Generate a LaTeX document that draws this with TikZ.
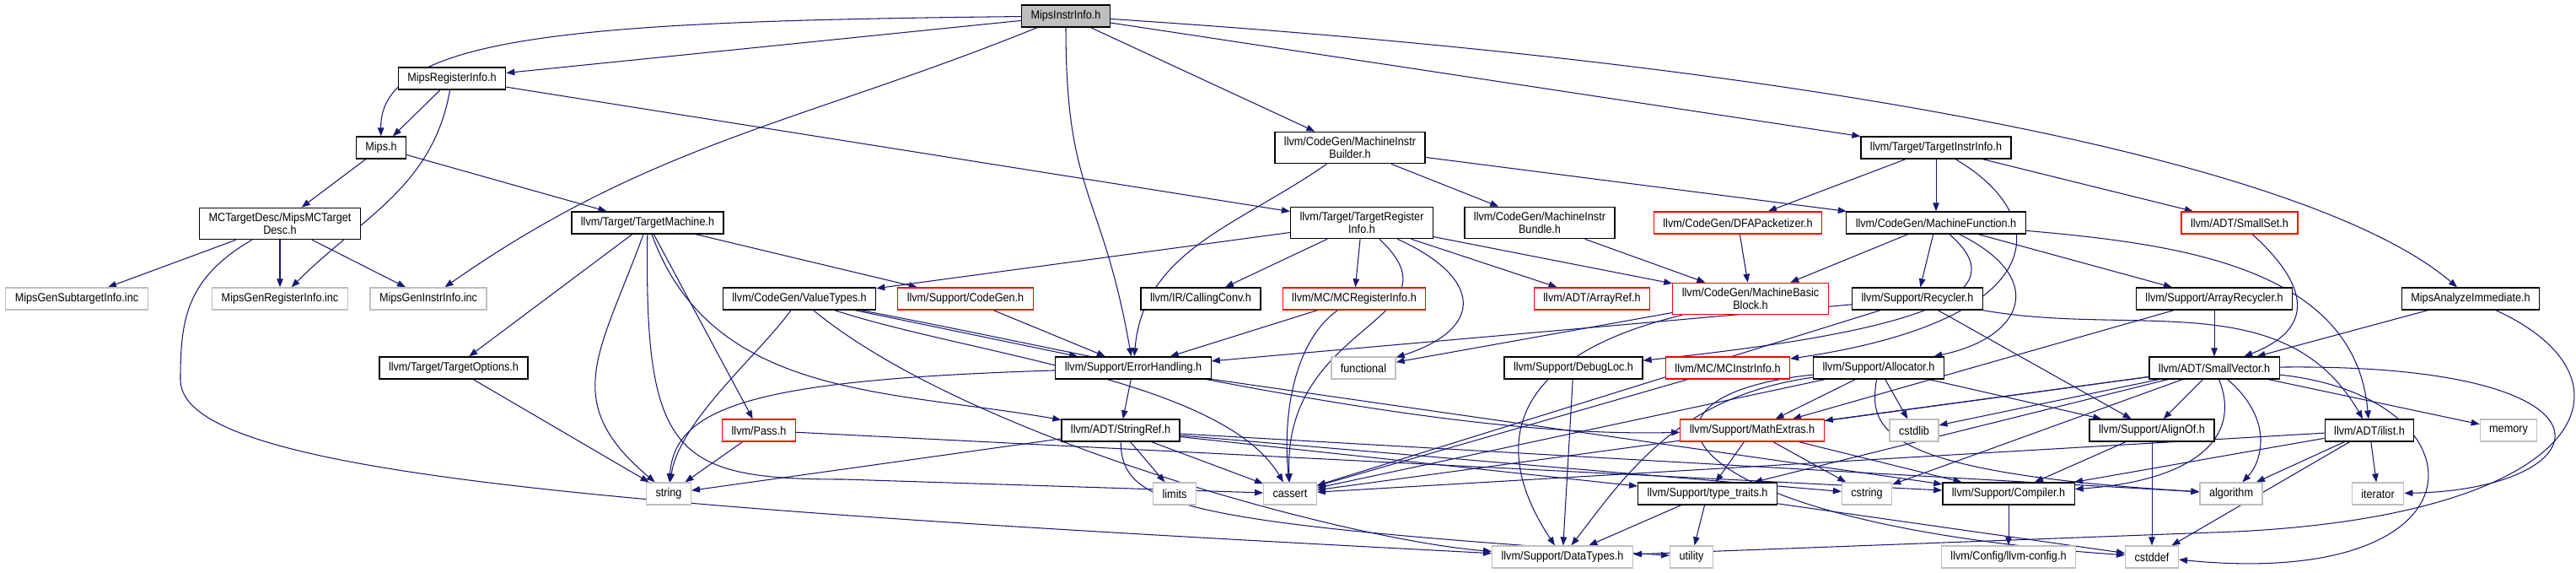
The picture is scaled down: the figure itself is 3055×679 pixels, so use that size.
\documentclass[tikz,border=0pt]{standalone}
\usepackage{fontspec}
\setmainfont{Liberation Sans}[FakeStretch=0.9]
\usetikzlibrary{arrows.meta}

\definecolor{edgeblue}{HTML}{191970}
\definecolor{boxgray}{HTML}{BFBFBF}
\pgfdeclarelayer{edges}
\pgfsetlayers{edges,main}

\begin{document}
\begin{tikzpicture}[x=0.02cm,y=-0.02cm,
  hdr/.style={draw=black,fill=white,line width=0.7pt,inner xsep=0.22cm,inner ysep=0.13cm,
    minimum height=0.52cm,align=center,font=\fontsize{8}{8}\selectfont},
  sys/.style={hdr,draw=boxgray},
  trunc/.style={hdr,draw=red},
  rootnode/.style={hdr,fill=boxgray},
  inc/.style={draw=edgeblue,line width=0.6pt,-{Triangle[length=0.2cm,width=0.15cm]}}]

\useasboundingbox (0,0) rectangle (3055,679);

% rows 0-3
\node[rootnode] (root) at (1264,19) {MipsInstrInfo.h};
\node[hdr] (mipsreg) at (536,93) {MipsRegisterInfo.h};
\node[hdr] (mips) at (452,175) {Mips.h};
\node[hdr] (mib) at (1601,175) {llvm/CodeGen/MachineInstr\\Builder.h};
\node[hdr] (tii) at (2296,175) {llvm/Target/TargetInstrInfo.h};
\node[hdr] (mctd) at (332,265) {MCTargetDesc/MipsMCTarget\\Desc.h};
\node[hdr] (tmach) at (768,264) {llvm/Target/TargetMachine.h};
\node[hdr] (tri) at (1615,264) {llvm/Target/TargetRegister\\Info.h};
\node[hdr] (mibundle) at (1826,264) {llvm/CodeGen/MachineInstr\\Bundle.h};
\node[trunc] (dfa) at (2061,264) {llvm/CodeGen/DFAPacketizer.h};
\node[hdr] (mf) at (2296,264) {llvm/CodeGen/MachineFunction.h};
\node[trunc] (sset) at (2656,264) {llvm/ADT/SmallSet.h};

% row 4
\node[sys] (gensub) at (91,354) {MipsGenSubtargetInfo.inc};
\node[sys] (genreg) at (332,354) {MipsGenRegisterInfo.inc};
\node[sys] (geninstr) at (508,354) {MipsGenInstrInfo.inc};
\node[hdr] (vtypes) at (948,354) {llvm/CodeGen/ValueTypes.h};
\node[trunc] (cgen) at (1145,354) {llvm/Support/CodeGen.h};
\node[hdr] (cconv) at (1424,354) {llvm/IR/CallingConv.h};
\node[trunc] (mcreg) at (1606,354) {llvm/MC/MCRegisterInfo.h};
\node[trunc] (aref) at (1888,354) {llvm/ADT/ArrayRef.h};
\node[trunc] (mbb) at (2076,354) {llvm/CodeGen/MachineBasic\\Block.h};
\node[hdr] (recyc) at (2274,354) {llvm/Support/Recycler.h};
\node[hdr] (arecyc) at (2626,354) {llvm/Support/ArrayRecycler.h};
\node[hdr] (mai) at (2930,354) {MipsAnalyzeImmediate.h};

% row 5
\node[hdr] (topts) at (538,436) {llvm/Target/TargetOptions.h};
\node[hdr] (errh) at (1344,436) {llvm/Support/ErrorHandling.h};
\node[sys] (functional) at (1617,436) {functional};
\node[hdr] (dloc) at (1866,436) {llvm/Support/DebugLoc.h};
\node[trunc] (mcinstr) at (2049,436) {llvm/MC/MCInstrInfo.h};
\node[hdr] (alloc) at (2228,436) {llvm/Support/Allocator.h};
\node[hdr] (svec) at (2626,436) {llvm/ADT/SmallVector.h};

% row 6
\node[trunc] (pass) at (900,510) {llvm/Pass.h};
\node[hdr] (sref) at (1329,510) {llvm/ADT/StringRef.h};
\node[trunc] (mathx) at (2078,510) {llvm/Support/MathExtras.h};
\node[sys] (cstdlib) at (2270,510) {cstdlib};
\node[hdr] (alignof) at (2552,510) {llvm/Support/AlignOf.h};
\node[hdr] (ilist) at (2810,510) {llvm/ADT/ilist.h};
\node[sys] (memory) at (2975,510) {memory};

% row 7
\node[sys] (string) at (793,585) {string};
\node[sys] (limits) at (1393,585) {limits};
\node[sys] (cassert) at (1530,585) {cassert};
\node[hdr] (ttraits) at (2025,585) {llvm/Support/type\_traits.h};
\node[sys] (cstring) at (2214,585) {cstring};
\node[hdr] (compiler) at (2382,585) {llvm/Support/Compiler.h};
\node[sys] (algorithm) at (2646,585) {algorithm};
\node[sys] (iterator) at (2820,585) {iterator};

% row 8
\node[sys] (dtypes) at (1853,660) {llvm/Support/DataTypes.h};
\node[sys] (utility) at (2006,660) {utility};
\node[sys] (lconfig) at (2382,660) {llvm/Config/llvm-config.h};
\node[sys] (cstddef) at (2552,660) {cstddef};

\begin{pgfonlayer}{edges}
% MipsInstrInfo.h
\draw[inc] (root) .. controls (700,25) and (450,40) .. (mips);
\draw[inc] (root) -- (mipsreg);
\draw[inc] (root) to[out=-158,in=35] (geninstr);
\draw[inc] (root) to[out=-90,in=100,looseness=1.3] (errh);
\draw[inc] (root) -- (mib);
\draw[inc] (root) -- (tii);
\draw[inc] (root) .. controls (2200,80) and (2750,200) .. (mai);

% MipsRegisterInfo.h, Mips.h
\draw[inc] (mipsreg) -- (mips);
\draw[inc] (mipsreg) to[out=-100,in=45] (genreg);
\draw[inc] (mipsreg) -- (tri);
\draw[inc] (mips) -- (mctd);
\draw[inc] (mips) -- (tmach);

% MipsMCTargetDesc.h
\draw[inc] (mctd) -- (gensub);
\draw[inc] (mctd) -- (genreg);
\draw[inc] (mctd) -- (geninstr);
\draw[inc] (mctd) .. controls (220,330) and (214,380) .. (214,450) .. controls (214,560) and (700,600) .. (dtypes);

% TargetMachine.h
\draw[inc] (tmach) -- (topts);
\draw[inc] (tmach) to[out=-110,in=140,looseness=1.3] (string);
\draw[inc] (tmach) -- (pass);
\draw[inc] (tmach) to[out=-70,in=170] (sref);
\draw[inc] (tmach) .. controls (764,540) and (800,568) .. (1000,568) -- (cassert);
\draw[inc] (tmach) -- (cgen);
\draw[inc] (topts) -- (string);

% MachineInstrBuilder.h
\draw[inc] (mib) to[out=-145,in=85] (errh);
\draw[inc] (mib) -- (mibundle);
\draw[inc] (mib) -- (mf);

% TargetRegisterInfo.h
\draw[inc] (tri) -- (vtypes);
\draw[inc] (tri) -- (cconv);
\draw[inc] (tri) -- (mcreg);
\draw[inc] (tri) .. controls (1760,330) and (1760,390) .. (functional);
\draw[inc] (tri) .. controls (1740,380) and (1520,380) .. (cassert);
\draw[inc] (tri) -- (aref);
\draw[inc] (tri) -- (mbb);
\draw[inc] (mibundle) -- (mbb);
\draw[inc] (dfa) -- (mbb);

% TargetInstrInfo.h
\draw[inc] (tii) -- (dfa);
\draw[inc] (tii) -- (mf);
\draw[inc] (tii) -- (sset);
\draw[inc] (tii) .. controls (2440,260) and (2430,380) .. (mcinstr);

% MachineFunction.h
\draw[inc] (mf) -- (mbb);
\draw[inc] (mf) -- (recyc);
\draw[inc] (mf) .. controls (2390,345) and (2300,390) .. (dloc);
\draw[inc] (mf) .. controls (2430,330) and (2400,400) .. (alloc);
\draw[inc] (mf) -- (arecyc);
\draw[inc] (mf) to[out=-5,in=95] (ilist);
\draw[inc] (sset) .. controls (2740,340) and (2745,390) .. (svec);

% MachineBasicBlock.h, Recycler.h, ArrayRecycler.h
\draw[inc] (mbb) -- (functional);
\draw[inc] (mbb) .. controls (1800,420) and (1760,520) .. (dtypes);
\draw[inc] (recyc) -- (errh);
\draw[inc] (recyc) -- (cassert);
\draw[inc] (recyc) -- (alignof);
\draw[inc] (recyc) to[out=-10,in=120] (ilist);
\draw[inc] (arecyc) -- (svec);
\draw[inc] (arecyc) -- (mathx);

% MipsAnalyzeImmediate.h
\draw[inc] (mai) -- (svec);
\draw[inc] (mai) .. controls (3140,450) and (3070,610) .. (2650,630) -- (dtypes);

% DebugLoc.h, MCInstrInfo.h, Allocator.h
\draw[inc] (dloc) -- (dtypes);
\draw[inc] (mcinstr) -- (cassert);
\draw[inc] (alloc) -- (cassert);
\draw[inc] (alloc) .. controls (1990,470) and (1930,560) .. (dtypes);
\draw[inc] (alloc) .. controls (1900,470) and (1980,620) .. (cstddef);
\draw[inc] (alloc) -- (mathx);
\draw[inc] (alloc) -- (cstdlib);
\draw[inc] (alloc) -- (alignof);
\draw[inc] (alloc) .. controls (2215,510) and (2230,560) .. (algorithm);

% SmallVector.h
\draw[inc] (svec) -- (alignof);
\draw[inc] (svec) .. controls (2660,520) and (2600,570) .. (compiler);
\draw[inc] (svec) .. controls (2700,500) and (2680,550) .. (algorithm);
\draw[inc] (svec) -- (memory);
\draw[inc] (svec) .. controls (3130,430) and (3090,580) .. (iterator);
\draw[inc] (svec) .. controls (2950,470) and (2960,700) .. (cstddef);
\draw[inc] (svec) -- (cassert);
\draw[inc] (svec) -- (cstdlib);
\draw[inc] (svec) -- (ttraits);
\draw[inc] (svec) -- (mathx);
\draw[inc] (svec) -- (cstring);

% AlignOf.h, ilist.h
\draw[inc] (alignof) -- (compiler);
\draw[inc] (alignof) -- (cstddef);
\draw[inc] (ilist) -- (cassert);
\draw[inc] (ilist) -- (compiler);
\draw[inc] (ilist) -- (algorithm);
\draw[inc] (ilist) -- (iterator);
\draw[inc] (ilist) -- (cstddef);

% MathExtras.h, type_traits.h, Compiler.h
\draw[inc] (mathx) -- (ttraits);
\draw[inc] (mathx) -- (cstring);
\draw[inc] (mathx) -- (compiler);
\draw[inc] (ttraits) -- (dtypes);
\draw[inc] (ttraits) -- (utility);
\draw[inc] (ttraits) -- (cstddef);
\draw[inc] (compiler) -- (lconfig);

% StringRef.h
\draw[inc] (sref) -- (string);
\draw[inc] (sref) -- (limits);
\draw[inc] (sref) -- (cassert);
\draw[inc] (sref) -- (ttraits);
\draw[inc] (sref) -- (cstring);
\draw[inc] (sref) -- (algorithm);
\draw[inc] (sref) .. controls (1330,600) and (1400,620) .. (utility);

% ErrorHandling.h, Pass.h
\draw[inc] (errh) .. controls (900,450) and (800,480) .. (string);
\draw[inc] (errh) -- (sref);
\draw[inc] (errh) -- (compiler);
\draw[inc] (pass) -- (string);
\draw[inc] (pass) -- (compiler);

% ValueTypes.h
\draw[inc] (vtypes) .. controls (900,420) and (805,500) .. (string);
\draw[inc] (vtypes) .. controls (1150,520) and (1600,640) .. (dtypes);
\draw[inc] (vtypes) .. controls (1150,420) and (1450,450) .. (cassert);
\draw[inc] (vtypes) -- (errh);
\draw[inc] (vtypes) .. controls (1300,420) and (1700,520) .. (mathx);

% CodeGen.h, MCRegisterInfo.h
\draw[inc] (cgen) -- (errh);
\draw[inc] (mcreg) -- (errh);
\draw[inc] (mcreg) .. controls (1540,400) and (1520,480) .. (cassert);
\end{pgfonlayer}

\end{tikzpicture}
\end{document}
